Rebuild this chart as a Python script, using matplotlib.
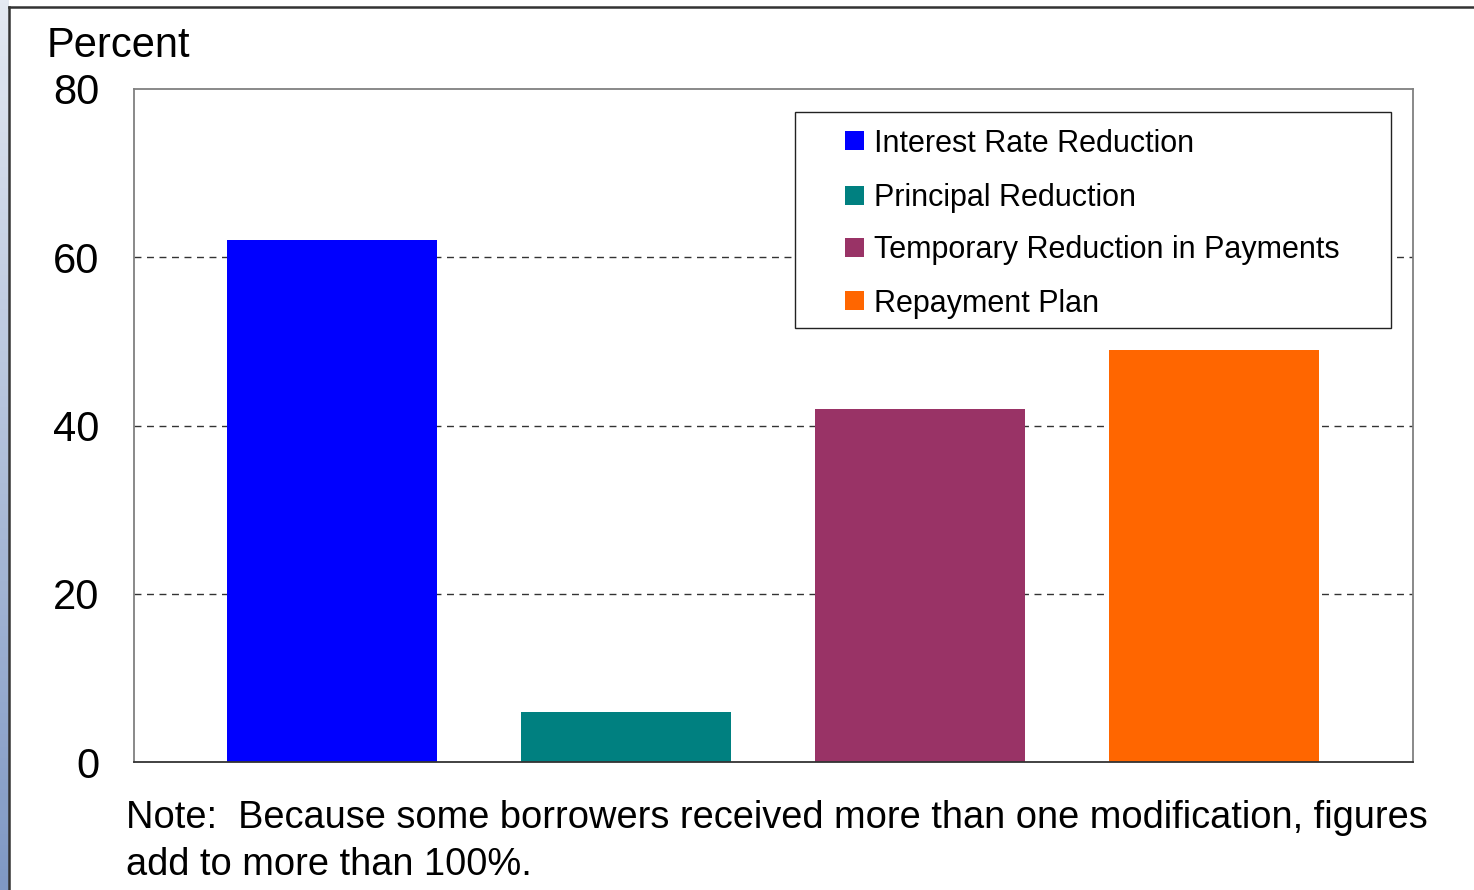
import matplotlib
matplotlib.use("Agg")
import matplotlib.pyplot as plt
import numpy as np
from matplotlib.patches import Rectangle
from matplotlib.lines import Line2D
from matplotlib.colors import LinearSegmentedColormap

categories = ["Interest Rate Reduction", "Principal Reduction",
              "Temporary Reduction in Payments", "Repayment Plan"]
values = [62, 6, 42, 49]
colors = ["#0000FF", "#008080", "#993366", "#FF6600"]
yticks = [0, 20, 40, 60, 80]
note_lines = ["Note:  Because some borrowers received more than one modification, figures",
              "add to more than 100%."]

plt.rcParams['font.family'] = ['Liberation Sans', 'DejaVu Sans']

W, H = 1474, 890
fig = plt.figure(figsize=(W / 100, H / 100), dpi=100)

def fx(px):
    return px / W

def fy(py):
    return 1 - py / H

# left gradient strip
bg = fig.add_axes([0, 0, 9 / W, 1])
grad = np.linspace(0, 1, 256).reshape(-1, 1)
cmap = LinearSegmentedColormap.from_list("g", ["#7f98c4", "#e4e9f2"])
bg.imshow(grad, aspect='auto', cmap=cmap, origin='lower', extent=[0, 1, 0, 1])
bg.axis('off')

# outer frame
fig.add_artist(Line2D([fx(9), fx(9)], [0, fy(7)], transform=fig.transFigure,
                      color="#333333", lw=1.8))
fig.add_artist(Line2D([fx(9), 1], [fy(7), fy(7)], transform=fig.transFigure,
                      color="#333333", lw=1.8))

left, right, top, bottom = 134, 1413, 89, 762
ax = fig.add_axes([fx(left), fy(bottom), (right - left) / W, (bottom - top) / H])
x = np.arange(len(values))
ax.bar(x, values, width=0.714, color=colors, zorder=2)
ax.set_xlim(-0.673, 3.677)
ax.set_ylim(0, 80)
ax.set_yticks(yticks)
ax.set_yticklabels([str(t) for t in yticks], fontsize=30)
ax.tick_params(axis='y', length=0, pad=25)
ax.set_xticks([])
for t in [20, 40, 60]:
    ax.axhline(t, color="#333333", lw=1, ls=(0, (5, 4)), zorder=1)
for s in ax.spines.values():
    s.set_color("#808080")
    s.set_linewidth(1.3)
ax.spines['bottom'].set_color("#333333")

# legend (drawn in figure pixel coordinates)
fig.add_artist(Rectangle((fx(795), fy(328)), (1391 - 795) / W, (328 - 112) / H,
                         transform=fig.transFigure, facecolor='white',
                         edgecolor='#222222', lw=1.0, zorder=5))
row_y = [141, 195, 247, 301]
sq = 19
for c, lab, ry in zip(colors, categories, row_y):
    fig.add_artist(Rectangle((fx(845), fy(ry + sq / 2)), sq / W, sq / H,
                             transform=fig.transFigure, facecolor=c,
                             edgecolor='none', zorder=6))
    fig.text(fx(874), fy(ry + 3), lab, fontsize=22, va='center', ha='left', zorder=7)

fig.text(fx(47), fy(46), "Percent", fontsize=30, va='center', ha='left')
fig.text(fx(126), fy(818), note_lines[0], fontsize=27.4, va='center', ha='left')
fig.text(fx(126), fy(865), note_lines[1], fontsize=27.4, va='center', ha='left')

fig.savefig("out.png", dpi=100)
